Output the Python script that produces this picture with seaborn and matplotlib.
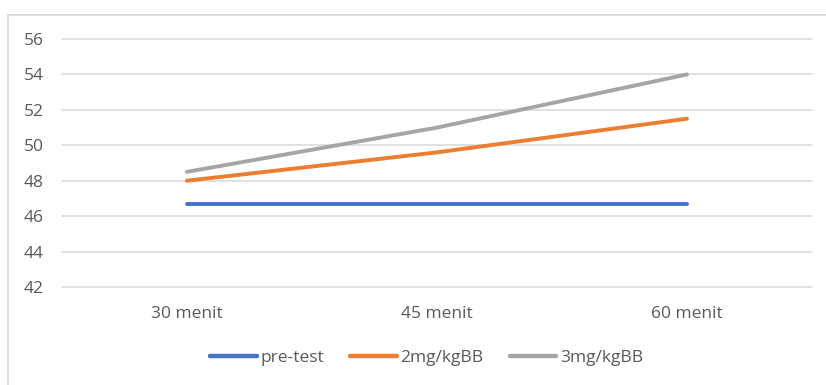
import numpy as np
import pandas as pd
import matplotlib
matplotlib.use("Agg")
import matplotlib.pyplot as plt
import seaborn as sns
from matplotlib.patches import Rectangle

# values
waktu = ["30 menit", "45 menit", "60 menit"]
pre_test = [46.7, 46.7, 46.7]
dosis_2mg = [48.0, 49.6, 51.5]
dosis_3mg = [48.5, 51.0, 54.0]
y_ticks = [42, 44, 46, 48, 50, 52, 54, 56]

df = pd.DataFrame({"waktu": waktu * 3,
                   "nilai": pre_test + dosis_2mg + dosis_3mg,
                   "kelompok": ["pre-test"] * 3 + ["2mg/kgBB"] * 3 + ["3mg/kgBB"] * 3})

sns.set_style("white")
plt.rcParams['font.family'] = ['Open Sans', 'DejaVu Sans']

fig = plt.figure(figsize=(8.26, 3.85), dpi=100)
ax = fig.add_axes([62 / 826, (385 - 287) / 385, 750 / 826, 248 / 385])

# chart area border (Excel style)
fig.patches.append(Rectangle((8 / 826, -0.1), 1.0, (385 - 15) / 385 + 0.1,
                             transform=fig.transFigure, fill=False,
                             edgecolor="#D9D9D9", lw=1.2))

palette = {"pre-test": "#4472C4", "2mg/kgBB": "#ED7D31", "3mg/kgBB": "#A5A5A5"}
sns.lineplot(data=df, x="waktu", y="nilai", hue="kelompok", palette=palette,
             lw=2.8, ax=ax, sort=False, solid_capstyle="round")

ax.set_xlim(-0.5, 2.5)
ax.set_ylim(42, 56)
ax.set_yticks(y_ticks)
ax.grid(axis="y", color="#D9D9D9", lw=1.1)
for g in ax.get_ygridlines():
    g.set_clip_on(False)
ax.set_axisbelow(True)
for s in ax.spines.values():
    s.set_visible(False)
ax.set_xlabel("")
ax.set_ylabel("")
ax.tick_params(axis="both", length=0, labelsize=12.5, labelcolor="#595959")
ax.tick_params(axis="x", pad=14)
ax.tick_params(axis="y", pad=13)

leg = ax.legend(loc="upper center", bbox_to_anchor=(0.486, -0.19), ncol=3,
                frameon=False, fontsize=12.5, handlelength=2.7, handletextpad=0.2,
                columnspacing=1.5)
for t in leg.get_texts():
    t.set_color("#595959")
for h in leg.get_lines():
    h.set_linewidth(3.2)

fig.savefig("out.png", dpi=100)
